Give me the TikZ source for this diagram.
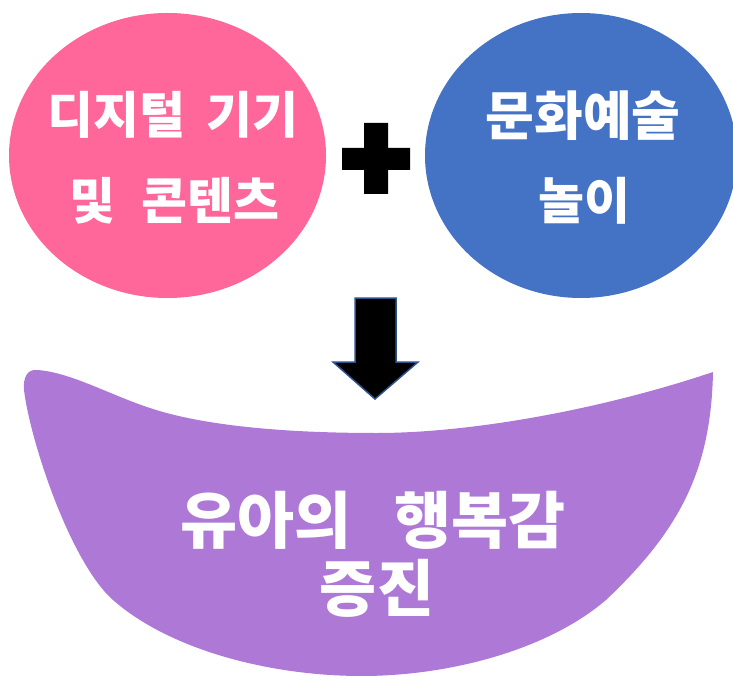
\documentclass[tikz,border=0pt]{standalone}
\usepackage{fontspec}
\usetikzlibrary{shapes.geometric}
\newfontfamily\krfont{Noto Sans CJK KR Black}
\definecolor{pinkc}{HTML}{FF6699}
\definecolor{bluec}{HTML}{4472C4}
\definecolor{purplec}{HTML}{AD78D6}
\definecolor{arrowedge}{HTML}{2F528F}
\begin{document}
\begin{tikzpicture}[x=1pt,y=-1pt,
  bubble/.style={ellipse, inner sep=0pt, draw=none},
  txt/.style={text=white, inner sep=0pt, anchor=center},
  midtxt/.style={txt, font={\krfont\fontsize{50}{52}\selectfont}},
  bigtxt/.style={txt, font={\krfont\fontsize{62}{64}\selectfont}}]
\useasboundingbox (0,0) rectangle (733,676);
% ellipses
\node[bubble, fill=pinkc, minimum width=317pt, minimum height=285pt] (digital) at (167.5,155.5) {};
\node[bubble, fill=bluec, minimum width=312pt, minimum height=285pt] (culture) at (581,155.5) {};
% plus sign
\fill[black] (364,123) -- (388,123) -- (388,148) -- (410,148) -- (410,170) -- (388,170) -- (388,194) -- (364,194) -- (364,170) -- (342,170) -- (342,148) -- (364,148) -- cycle;
% down arrow
\filldraw[fill=black, draw=arrowedge, line width=1.5pt, line join=miter]
  (355,298) -- (396,298) -- (396,362) -- (418,362) -- (375,399) -- (333,362) -- (355,362) -- cycle;
% bowl
\fill[purplec] (37,370) .. controls (70,372) and (110,395) .. (150,408)
  .. controls (210,428) and (300,433) .. (377,433)
  .. controls (470,433) and (600,410) .. (713,372)
  .. controls (711,470) and (680,530) .. (606,600)
  .. controls (545,652) and (445,676) .. (362,676)
  .. controls (270,676) and (170,650) .. (113,600)
  .. controls (70,562) and (30,440) .. (24,390)
  .. controls (23,378) and (27,369) .. (37,370) -- cycle;
% texts
\node[midtxt] (l1) at (173,115) {디지털\hspace{0.42em}기기};
\node[midtxt] (l2) at (174,201) {및\hspace{0.52em}콘텐츠};
\node[midtxt, font={\krfont\fontsize{53}{55}\selectfont}] (r1) at (583,116) {문화예술};
\node[midtxt] (r2) at (584,201) {놀이};
\node[bigtxt] (b1) at (373,520) {유아의\hspace{0.7em}행복감};
\node[bigtxt] (b2) at (377,588) {증진};
\end{tikzpicture}
\end{document}
